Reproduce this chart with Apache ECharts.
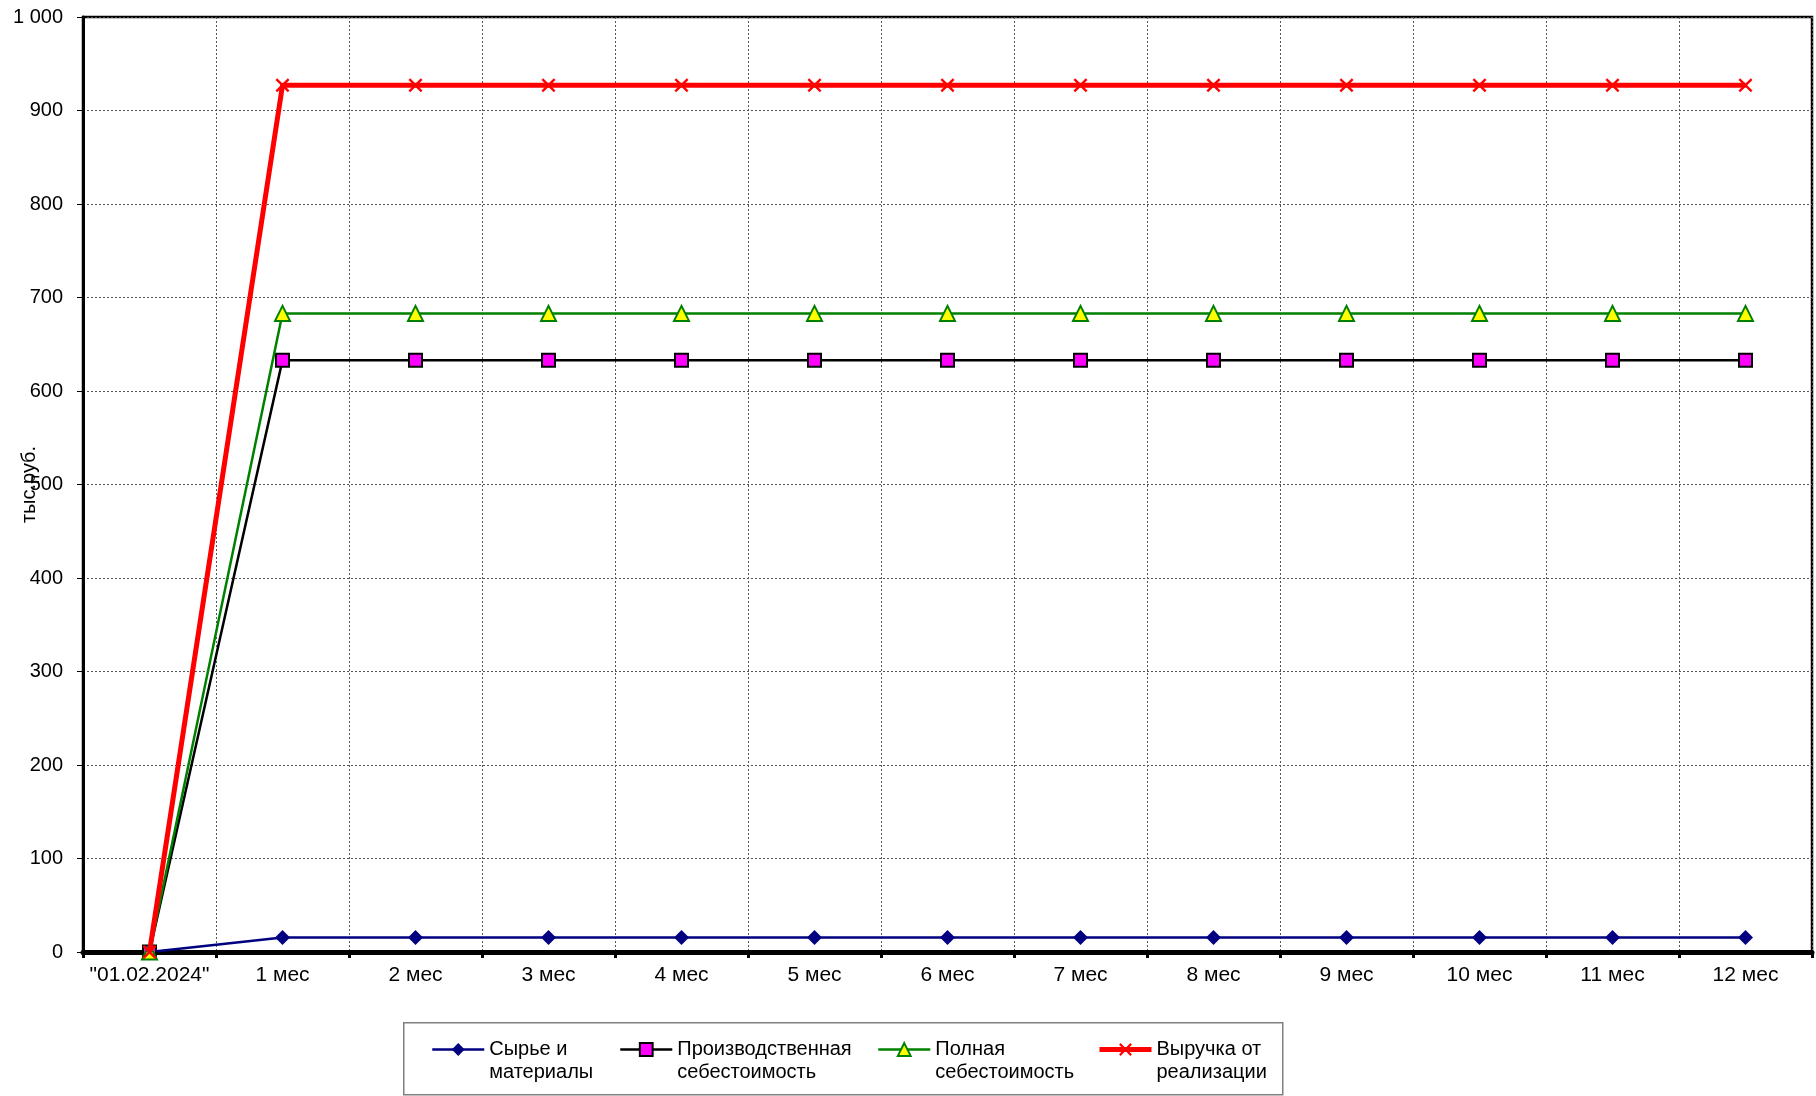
<!DOCTYPE html>
<html>
<head>
<meta charset="utf-8">
<script src="https://cdn.jsdelivr.net/npm/echarts@6/dist/echarts.min.js"></script>
<style>
  html, body { margin: 0; padding: 0; background: #fff; }
  #chart { width: 1816px; height: 1096px; }
</style>
</head>
<body>
<div id="chart"></div>
<script>
// Period labels along the x axis
var periods = ['"01.02.2024"', '1 мес', '2 мес', '3 мес', '4 мес', '5 мес', '6 мес',
               '7 мес', '8 мес', '9 мес', '10 мес', '11 мес', '12 мес'];

// Values, тыс.руб.
var rawMaterials = [0, 15.5, 15.5, 15.5, 15.5, 15.5, 15.5, 15.5, 15.5, 15.5, 15.5, 15.5, 15.5];
var productionCost = [0, 633, 633, 633, 633, 633, 633, 633, 633, 633, 633, 633, 633];
var fullCost = [0, 683, 683, 683, 683, 683, 683, 683, 683, 683, 683, 683, 683];
var revenue = [0, 927, 927, 927, 927, 927, 927, 927, 927, 927, 927, 927, 927];

// Y axis scale
var yMin = 0, yMax = 1000, yStep = 100;

var seriesNames = ['Сырье и\nматериалы', 'Производственная\nсебестоимость',
                   'Полная\nсебестоимость', 'Выручка от\nреализации'];

var FONT = '"Liberation Sans", Arial, sans-serif';
var crossPath = 'path://M0,1.2 L1.2,0 L5,3.8 L8.8,0 L10,1.2 L6.2,5 L10,8.8 L8.8,10 L5,6.2 L1.2,10 L0,8.8 L3.8,5 Z';

// One legend block per series; the leading blank line keeps the marker level with the first text line
function legendAt(left, name, lineWidth) {
  return {
    left: left, top: 1015, padding: 0,
    itemWidth: 52, itemHeight: 16, itemGap: 0,
    data: [name],
    lineStyle: { width: lineWidth },
    formatter: function (n) { return '\n' + n; },
    textStyle: { fontFamily: FONT, fontSize: 20, color: '#000', lineHeight: 23 }
  };
}

var chart = echarts.init(document.getElementById('chart'), null, { renderer: 'canvas' });
chart.setOption({
  animation: false,
  backgroundColor: '#fff',
  textStyle: { fontFamily: FONT },
  grid: {
    left: 83, right: 4, top: 17, bottom: 144,
    outerBoundsMode: 'none',
    containLabel: false,
    show: true, borderColor: '#000', borderWidth: 2.5, backgroundColor: 'transparent'
  },
  legend: [
    legendAt(431, seriesNames[0], 2.5),
    legendAt(619, seriesNames[1], 2.5),
    legendAt(877, seriesNames[2], 2.5),
    legendAt(1097, seriesNames[3], 5)
  ],
  graphic: [{
    type: 'rect', left: 403, top: 1022, z: -1,
    shape: { width: 879, height: 72 },
    style: { fill: '#fff', stroke: '#808080', lineWidth: 1.5 }
  }],
  xAxis: {
    type: 'category',
    data: periods,
    boundaryGap: true,
    axisLine: { lineStyle: { color: '#000', width: 5 } },
    axisTick: { show: true, alignWithLabel: false, interval: 0, length: 6, lineStyle: { color: '#000', width: 3 } },
    axisLabel: { interval: 0, margin: 13, fontSize: 21, color: '#000', fontFamily: FONT, hideOverlap: false },
    splitLine: { show: true, interval: 0, lineStyle: { color: '#555', type: [2, 2], width: 1 } }
  },
  yAxis: {
    type: 'value',
    min: yMin, max: yMax, interval: yStep,
    name: 'тыс.руб.',
    nameLocation: 'middle',
    nameRotate: 90,
    nameGap: 44,
    nameMoveOverlap: false,
    nameTextStyle: { fontSize: 20, color: '#000', fontFamily: FONT },
    axisLine: { show: true, lineStyle: { color: '#000', width: 3 } },
    axisTick: { show: true, length: 6, lineStyle: { color: '#000', width: 1 } },
    axisLabel: {
      margin: 20, fontSize: 20, color: '#000', fontFamily: FONT,
      formatter: function (v) { return v >= 1000 ? (Math.floor(v / 1000) + ' ' + String(v % 1000).padStart(3, '0')) : String(v); }
    },
    splitLine: { show: true, lineStyle: { color: '#555', type: [2, 2], width: 1 } }
  },
  series: [
    {
      name: seriesNames[0], type: 'line', data: rawMaterials,
      symbol: 'diamond', symbolSize: 15,
      lineStyle: { color: '#000080', width: 2.5 },
      itemStyle: { color: '#000080', borderColor: '#000080', borderWidth: 0 },
      z: 2
    },
    {
      name: seriesNames[1], type: 'line', data: productionCost,
      symbol: 'rect', symbolSize: 13,
      lineStyle: { color: '#000', width: 2.5 },
      itemStyle: { color: '#ff00ff', borderColor: '#000', borderWidth: 2 },
      z: 3
    },
    {
      name: seriesNames[2], type: 'line', data: fullCost,
      symbol: 'triangle', symbolSize: 15,
      lineStyle: { color: '#008000', width: 2.5 },
      itemStyle: { color: '#ffff00', borderColor: '#008000', borderWidth: 2 },
      z: 4
    },
    {
      name: seriesNames[3], type: 'line', data: revenue,
      symbol: crossPath, symbolSize: 14,
      lineStyle: { color: '#ff0000', width: 5 },
      itemStyle: { color: '#ff0000', borderWidth: 0 },
      z: 5
    }
  ]
});
</script>
</body>
</html>
